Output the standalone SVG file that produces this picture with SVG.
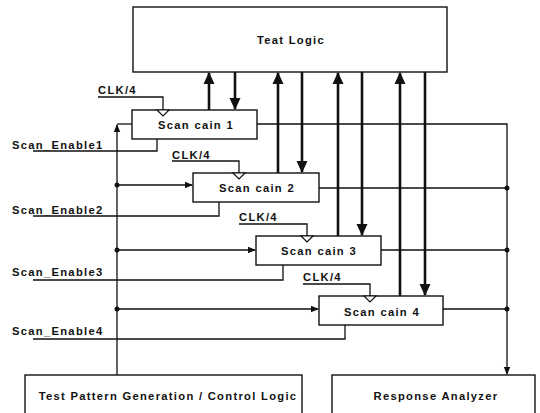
<svg xmlns="http://www.w3.org/2000/svg" width="540" height="413" viewBox="0 0 540 413">
<style>
text{font-family:"Liberation Sans",Arial,sans-serif;font-size:11.2px;font-weight:bold;letter-spacing:1.3px;fill:#111}
.box{fill:#fff;stroke:#111;stroke-width:1.4}
.thin{fill:none;stroke:#111;stroke-width:1.3}
.thick{fill:none;stroke:#111;stroke-width:2.6}
.clk{fill:#fff;stroke:#111;stroke-width:1.2}
.c{text-anchor:middle}
</style>
<defs>
<marker id="ah" markerWidth="8" markerHeight="8" refX="7" refY="4" orient="auto" markerUnits="userSpaceOnUse"><path d="M0,0.8 L8,4 L0,7.2 Z" fill="#111"/></marker>
<marker id="big" markerWidth="12" markerHeight="12" refX="11" refY="6" orient="auto" markerUnits="userSpaceOnUse"><path d="M0,0.5 L12,6 L0,11.5 Z" fill="#111"/></marker>
</defs>
<g id="teat-logic"><rect class="box" x="133" y="7" width="314" height="65"/><text class="c" x="291" y="44">Teat Logic</text></g>
<g id="tpg"><rect class="box" x="25" y="375" width="277" height="45"/><text class="c" x="168" y="400">Test Pattern Generation / Control Logic</text></g>
<g id="response"><rect class="box" x="332" y="375" width="203" height="45"/><text class="c" x="436" y="400">Response Analyzer</text></g>
<g id="chain1"><rect class="box" x="132" y="110" width="125" height="29"/><polygon class="clk" points="157,110 169,110 163,116"/><text class="c" x="196" y="129">Scan cain 1</text></g>
<g id="chain2"><rect class="box" x="193" y="173" width="126" height="29"/><polygon class="clk" points="233,173 245,173 239,179"/><text class="c" x="257" y="192">Scan cain 2</text></g>
<g id="chain3"><rect class="box" x="256" y="236" width="125" height="29"/><polygon class="clk" points="301,236 313,236 307,242"/><text class="c" x="319" y="255">Scan cain 3</text></g>
<g id="chain4"><rect class="box" x="319" y="296" width="124" height="29"/><polygon class="clk" points="364,296 376,296 370,302"/><text class="c" x="382" y="316">Scan cain 4</text></g>
<g id="labels">
<text x="98" y="94">CLK/4</text>
<text x="172" y="159">CLK/4</text>
<text x="239" y="221">CLK/4</text>
<text x="303" y="281">CLK/4</text>
<text x="12" y="149">Scan_Enable1</text>
<text x="12" y="214">Scan_Enable2</text>
<text x="12" y="276">Scan_Enable3</text>
<text x="12" y="335">Scan_Enable4</text>
</g>
<g id="connectors">
<path class="thick" d="M209,110 V73" marker-end="url(#big)"/>
<path class="thick" d="M235,72 V109" marker-end="url(#big)"/>
<path class="thick" d="M278,173 V73" marker-end="url(#big)"/>
<path class="thick" d="M302,72 V172" marker-end="url(#big)"/>
<path class="thick" d="M338,236 V73" marker-end="url(#big)"/>
<path class="thick" d="M362,72 V235" marker-end="url(#big)"/>
<path class="thick" d="M400,296 V73" marker-end="url(#big)"/>
<path class="thick" d="M425,72 V295" marker-end="url(#big)"/>
<path class="thin" d="M98,97 H163 V110"/>
<path class="thin" d="M172,161 H239 V173"/>
<path class="thin" d="M239,224 H307 V236"/>
<path class="thin" d="M303,284 H370 V296"/>
<path class="thin" d="M33,151 H157 V139"/>
<path class="thin" d="M33,216 H219 V202"/>
<path class="thin" d="M33,280 H283 V265"/>
<path class="thin" d="M33,339 H345 V325"/>
<path class="thin" d="M117,375 V125" marker-end="url(#ah)"/>
<path class="thin" d="M117,124 H132"/>
<path class="thin" d="M117,185 H192" marker-end="url(#ah)"/>
<path class="thin" d="M117,250 H255" marker-end="url(#ah)"/>
<path class="thin" d="M117,309 H318" marker-end="url(#ah)"/>
<path class="thin" d="M257,124 H507 V374" marker-end="url(#ah)"/>
<path class="thin" d="M319,188 H507"/>
<path class="thin" d="M381,250 H507"/>
<path class="thin" d="M443,309 H507"/>
<g fill="#111">
<circle cx="117" cy="185" r="2.5"/><circle cx="117" cy="250" r="2.5"/><circle cx="117" cy="309" r="2.5"/>
<circle cx="507" cy="188" r="2.5"/><circle cx="507" cy="250" r="2.5"/><circle cx="507" cy="309" r="2.5"/>
</g>
</g>
</svg>
